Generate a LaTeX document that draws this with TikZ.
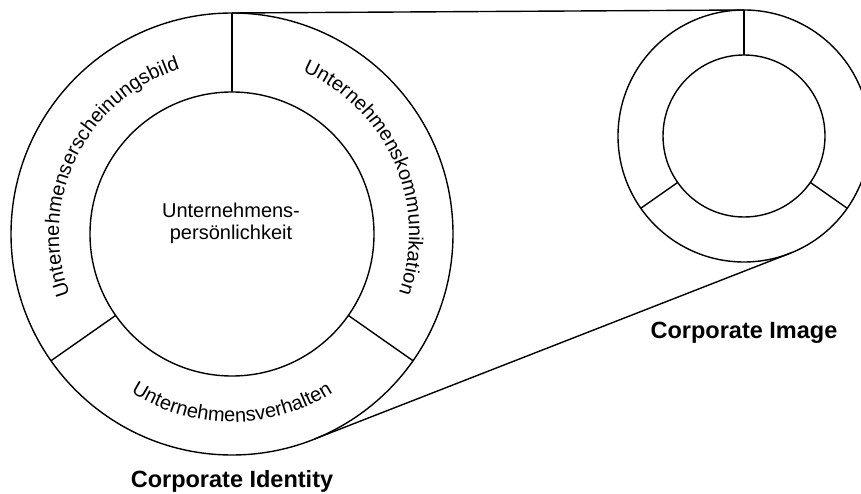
\documentclass[tikz,border=0pt]{standalone}
\usepackage{fontspec}
\setmainfont{Liberation Sans}
\usetikzlibrary{positioning,decorations.text}
\newcommand\ringfont{\fontsize{20}{22}\selectfont}

\begin{document}
\begin{tikzpicture}[x=1pt,y=1pt,line width=1.4pt,
    ring/.style={circle,draw,inner sep=0pt,outer sep=0pt},
    title/.style={font=\bfseries\fontsize{23.5}{26}\selectfont},
    ringtext/.style={decorate,decoration={text along path,text align=center,
        text={|\ringfont|#1}}}]
  \useasboundingbox (0,0) rectangle (861,493);
  \clip (0,0) rectangle (861,493);
  % corporate identity
  \node[ring,minimum size=442pt] (idout) at (232,259) {};
  \node[ring,minimum size=284pt] (idin) at (232,259) {};
  \node[align=center,font=\ringfont] (core) at (231,270) {Unternehmens-\\pers\"onlichkeit};
  \foreach \a in {90,215,325}
    \draw (idin.\a) -- (idout.\a);
  \path[ringtext=Unternehmenserscheinungsbild]
    ([shift={(216:173)}]idout.center) arc[start angle=216,end angle=92,radius=173];
  \path[ringtext=Unternehmenskommunikation]
    ([shift={(85.5:177)}]idout.center) arc[start angle=85.5,end angle=-38.5,radius=177];
  \path[ringtext=Unternehmensverhalten]
    ([shift={(215:188)}]idout.center) arc[start angle=215,end angle=325,radius=188];
  % corporate image
  \node[ring,minimum size=252pt] (imout) at (744,357) {};
  \node[ring,minimum size=162pt] (imin) at (744,357) {};
  \foreach \a in {90,215,325}
    \draw (imin.\a) -- (imout.\a);
  % tangents
  \draw (idout.90.3) -- (imout.90.3);
  \draw (idout.-68.7) -- (imout.-68.7);
  \node[title] (cid) at (232,12) {Corporate Identity};
  \node[title] (cim) at (744,160) {Corporate Image};
\end{tikzpicture}
\end{document}
